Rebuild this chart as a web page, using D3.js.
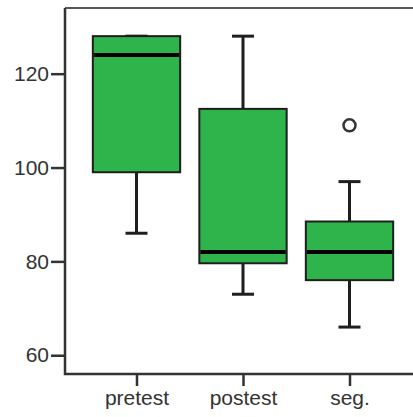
<!DOCTYPE html>
<html>
<head>
<meta charset="utf-8">
<script src="https://cdn.jsdelivr.net/npm/d3@7"></script>
<style>
  html, body { margin: 0; padding: 0; background: #fff; }
  svg { display: block; }
  text { font-family: "Liberation Sans", Arial, sans-serif; fill: #333; }
</style>
</head>
<body>
<svg id="chart" width="413" height="417"></svg>
<script>
// Groups shown along the x axis
const categories = ["pretest", "postest", "seg."];
// Five-number summaries per group
const minima    = [86, 73, 66];
const quartile1 = [99, 79.6, 76];
const medians   = [124, 82, 82];
const quartile3 = [128, 112.5, 88.5];
const maxima    = [128, 128, 97];
// Outlying points: [group, value]
const outliers  = [["seg.", 109]];
// Y axis ticks
const yTicks = [60, 80, 100, 120];

const W = 413, H = 417;
const plot = { left: 65, top: 8, right: 413, bottom: 374 };

const svg = d3.select("#chart");

const y = d3.scaleLinear().domain([56, 134]).range([plot.bottom, plot.top]);
const x = d3.scalePoint().domain(categories).range([plot.left + 71.5, plot.left + 284.5]);
const step = x.step();
const boxW = step * 0.82;
const capW = 22;

const fill = "#2eb44b";
const ink = "#1e1e1e";

// Frame: top edge
svg.append("line")
  .attr("x1", plot.left).attr("x2", plot.right)
  .attr("y1", plot.top).attr("y2", plot.top)
  .attr("stroke", "#555").attr("stroke-width", 2);

const yAxis = svg.append("g")
  .attr("transform", `translate(${plot.left},0)`)
  .call(d3.axisLeft(y).tickValues(yTicks).tickSize(14).tickPadding(2).tickFormat(d3.format("d")));
yAxis.select(".domain").remove();
yAxis.selectAll(".tick line").attr("stroke", "#333").attr("stroke-width", 2.5);
yAxis.selectAll(".tick text").attr("font-size", 21).attr("fill", "#333");

const xAxis = svg.append("g")
  .attr("transform", `translate(0,${plot.bottom})`)
  .call(d3.axisBottom(x).tickSize(12).tickPadding(4));
xAxis.select(".domain").remove();
xAxis.selectAll(".tick line").attr("stroke", "#333").attr("stroke-width", 2.5);
xAxis.selectAll(".tick text").attr("font-size", 21).attr("fill", "#333");

svg.append("path")
  .attr("d", `M${plot.left},${plot.top}V${plot.bottom}H${plot.right}`)
  .attr("fill", "none").attr("stroke", "#333").attr("stroke-width", 2.5);

// Boxes
const data = categories.map((c, i) => ({
  cat: c, min: minima[i], q1: quartile1[i], med: medians[i], q3: quartile3[i], max: maxima[i]
}));

const g = svg.append("g");
const box = g.selectAll("g.box").data(data).join("g").attr("class", "box");

// whiskers
box.append("line")
  .attr("x1", d => x(d.cat)).attr("x2", d => x(d.cat))
  .attr("y1", d => y(d.max)).attr("y2", d => y(d.q3))
  .attr("stroke", ink).attr("stroke-width", 3);
box.append("line")
  .attr("x1", d => x(d.cat)).attr("x2", d => x(d.cat))
  .attr("y1", d => y(d.q1)).attr("y2", d => y(d.min))
  .attr("stroke", ink).attr("stroke-width", 3);
// caps
box.append("line")
  .attr("x1", d => x(d.cat) - capW / 2).attr("x2", d => x(d.cat) + capW / 2)
  .attr("y1", d => y(d.max)).attr("y2", d => y(d.max))
  .attr("stroke", ink).attr("stroke-width", 3);
box.append("line")
  .attr("x1", d => x(d.cat) - capW / 2).attr("x2", d => x(d.cat) + capW / 2)
  .attr("y1", d => y(d.min)).attr("y2", d => y(d.min))
  .attr("stroke", ink).attr("stroke-width", 3);
// box body
box.append("rect")
  .attr("x", d => x(d.cat) - boxW / 2)
  .attr("width", boxW)
  .attr("y", d => y(d.q3))
  .attr("height", d => y(d.q1) - y(d.q3))
  .attr("fill", fill).attr("stroke", ink).attr("stroke-width", 2);
// median
box.append("line")
  .attr("x1", d => x(d.cat) - boxW / 2 + 1).attr("x2", d => x(d.cat) + boxW / 2 - 1)
  .attr("y1", d => y(d.med)).attr("y2", d => y(d.med))
  .attr("stroke", "#000").attr("stroke-width", 4);

// outliers
g.selectAll("circle.out").data(outliers).join("circle")
  .attr("class", "out")
  .attr("cx", d => x(d[0])).attr("cy", d => y(d[1]))
  .attr("r", 6).attr("fill", "#fff").attr("stroke", "#333").attr("stroke-width", 2.5);
</script>
</body>
</html>
